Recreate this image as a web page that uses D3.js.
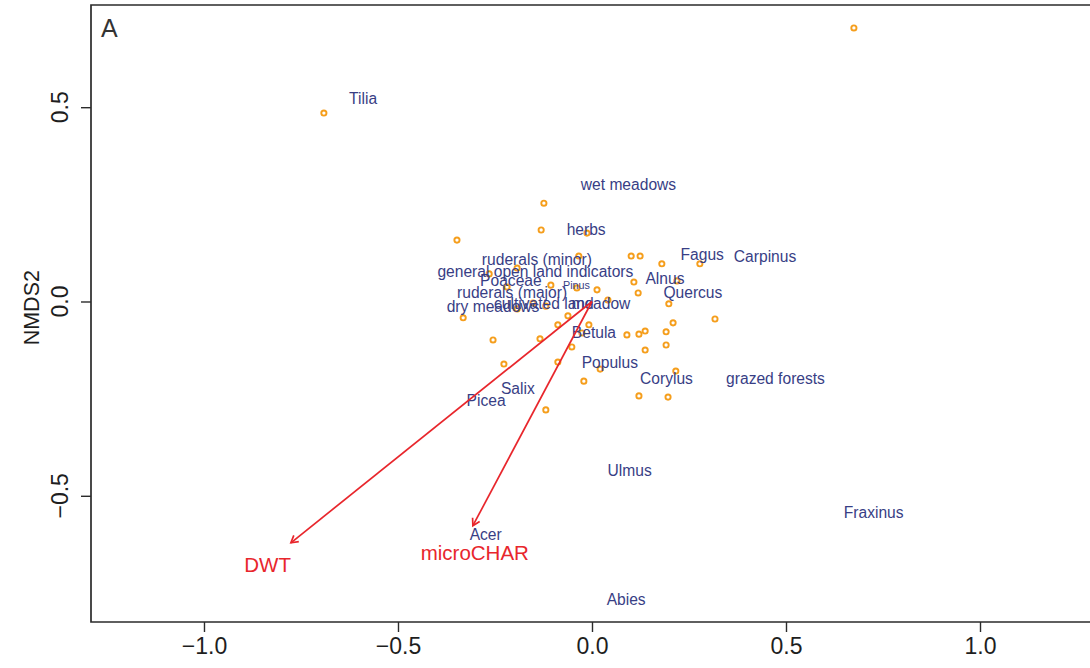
<!DOCTYPE html>
<html>
<head>
<meta charset="utf-8">
<script src="https://cdn.jsdelivr.net/npm/d3@7"></script>
<style>
  html, body { margin: 0; padding: 0; background: #fff; }
  svg { display: block; font-family: "Liberation Sans", Arial, Helvetica, sans-serif; }
</style>
</head>
<body>
<svg id="chart" width="1090" height="668"></svg>
<script>
// Site scores (NMDS1, NMDS2)
const siteX = [0.675, -0.691, -0.124, -0.131, -0.348, -0.013, -0.034, 0.101, 0.124, 0.180,
               0.278, -0.193, -0.265, 0.108, 0.219, -0.106, -0.219, 0.013, 0.119, 0.041,
               -0.039, -0.152, -0.119, -0.193, -0.332, -0.062, -0.088, 0.198, 0.209, 0.317,
               -0.008, -0.255, -0.134, -0.026, -0.052, -0.227, -0.088, 0.021, -0.021, -0.119,
               0.090, 0.121, 0.137, 0.191, 0.191, 0.137, 0.216, 0.121, 0.196];
const siteY = [0.704, 0.485, 0.253, 0.184, 0.158, 0.176, 0.117, 0.117, 0.117, 0.097,
               0.097, 0.086, 0.071, 0.050, 0.053, 0.042, 0.037, 0.030, 0.022, 0.004,
               0.035, -0.004, -0.012, -0.019, -0.042, -0.037, -0.060, -0.006, -0.055, -0.045,
               -0.060, -0.099, -0.096, -0.081, -0.117, -0.161, -0.156, -0.174, -0.205, -0.279,
               -0.086, -0.084, -0.076, -0.078, -0.112, -0.125, -0.179, -0.243, -0.246];

// Pollen taxa / indicator group scores
const speciesNames = ["Tilia", "wet meadows", "herbs", "ruderals (minor)",
  "general open land indicators", "Poaceae", "Pinus", "ruderals (major)",
  "cultivated land", "dry meadows", "meadow", "Fagus", "Carpinus", "Alnus",
  "Quercus", "Betula", "Populus", "Corylus", "grazed forests", "Salix", "Picea",
  "Ulmus", "Fraxinus", "Acer", "Abies"];
const speciesX = [-0.590, 0.094, -0.015, -0.142, -0.146, -0.209, -0.040, -0.206,
  -0.124, -0.255, 0.023, 0.284, 0.446, 0.188, 0.260, 0.005, 0.046, 0.192, 0.473,
  -0.191, -0.273, 0.097, 0.726, -0.274, 0.088];
const speciesY = [0.521, 0.302, 0.185, 0.108, 0.078, 0.055, 0.042, 0.024,
  -0.004, -0.014, -0.004, 0.120, 0.115, 0.058, 0.024, -0.081, -0.156, -0.199, -0.197,
  -0.225, -0.256, -0.436, -0.544, -0.601, -0.766];

// Fitted environmental vectors
const vectorNames = ["DWT", "microCHAR"];
const vectorX = [-0.776, -0.307];
const vectorY = [-0.621, -0.577];
const vectorLabelX = [-0.836, -0.302];
const vectorLabelY = [-0.677, -0.648];

// Axis ticks
const xTicks = [-1.0, -0.5, 0.0, 0.5, 1.0];
const yTicks = [-0.5, 0.0, 0.5];
const yTitle = "NMDS2";
const panelLabel = "A";

(function () {
  const svg = d3.select("#chart");
  const pLeft = 91, pRight = 1090, pTop = 5, pBottom = 622;

  const x = d3.scaleLinear().domain([-1.2912, 1.2835]).range([pLeft, pRight]);
  const y = d3.scaleLinear().domain([0.7630, -0.8248]).range([pTop, pBottom]);

  const axisColor = "#2b2b2b";
  const taxaColor = "#383e85";
  const vecColor = "#e8262c";
  const siteColor = "#f59e1c";
  const fmt = d => d3.format(".1f")(d).replace("-", "\u2212");

  // Plot frame (left, top, bottom edges)
  svg.append("path")
    .attr("d", `M${pRight + 5},${pTop}H${pLeft}V${pBottom}H${pRight + 5}`)
    .attr("fill", "none").attr("stroke", axisColor).attr("stroke-width", 1.7);

  // Bottom axis
  const xAxis = d3.axisBottom(x).tickValues(xTicks).tickSize(10).tickPadding(6).tickFormat(fmt);
  const gx = svg.append("g").attr("transform", `translate(0,${pBottom})`).call(xAxis);
  gx.select(".domain").remove();
  gx.selectAll(".tick line").attr("stroke", axisColor).attr("stroke-width", 1.4);
  gx.selectAll(".tick text").attr("fill", "#1e1e1e").attr("font-size", 23)
    .attr("font-family", "Liberation Sans, Arial, sans-serif");

  // Left axis with rotated labels
  const yAxis = d3.axisLeft(y).tickValues(yTicks).tickSize(10).tickFormat("");
  const gy = svg.append("g").attr("transform", `translate(${pLeft},0)`).call(yAxis);
  gy.select(".domain").remove();
  gy.selectAll(".tick line").attr("stroke", axisColor).attr("stroke-width", 1.4);
  svg.append("g").selectAll("text").data(yTicks).join("text")
    .attr("transform", d => `translate(60,${y(d)}) rotate(-90)`)
    .attr("text-anchor", "middle").attr("dy", "0.35em")
    .attr("font-size", 23).attr("fill", "#1e1e1e")
    .text(fmt);

  svg.append("text")
    .attr("transform", `translate(31,${y(-0.016)}) rotate(-90)`)
    .attr("text-anchor", "middle").attr("dy", "0.35em")
    .attr("font-size", 21.5).attr("fill", "#1e1e1e").text(yTitle);

  svg.append("text").attr("x", 101).attr("y", 37)
    .attr("font-size", 25).attr("fill", "#333").text(panelLabel);

  // Site points
  svg.append("g").selectAll("circle").data(siteX.map((v, i) => [v, siteY[i]])).join("circle")
    .attr("cx", d => x(d[0])).attr("cy", d => y(d[1])).attr("r", 2.6)
    .attr("fill", "#fff").attr("stroke", siteColor).attr("stroke-width", 1.9);

  // Taxa labels
  const smallNames = new Set(["Pinus"]);
  svg.append("g").selectAll("text").data(speciesNames).join("text")
    .attr("x", (d, i) => x(speciesX[i])).attr("y", (d, i) => y(speciesY[i]))
    .attr("text-anchor", "middle").attr("dy", "0.35em")
    .attr("font-size", d => smallNames.has(d) ? 10.8 : 15.6)
    .attr("fill", taxaColor).text(d => d);

  // Environmental vectors with open arrowheads
  const gv = svg.append("g").attr("stroke", vecColor).attr("stroke-width", 1.7).attr("fill", "none");
  vectorNames.forEach((name, i) => {
    const x0 = x(0), y0 = y(0), x1 = x(vectorX[i]), y1 = y(vectorY[i]);
    gv.append("line").attr("x1", x0).attr("y1", y0).attr("x2", x1).attr("y2", y1);
    const ang = Math.atan2(y1 - y0, x1 - x0), len = 8, spread = Math.PI / 6;
    const p1 = [x1 - len * Math.cos(ang - spread), y1 - len * Math.sin(ang - spread)];
    const p2 = [x1 - len * Math.cos(ang + spread), y1 - len * Math.sin(ang + spread)];
    gv.append("path").attr("d", `M${p1}L${x1},${y1}L${p2}`);
  });
  svg.append("g").selectAll("text").data(vectorNames).join("text")
    .attr("x", (d, i) => x(vectorLabelX[i])).attr("y", (d, i) => y(vectorLabelY[i]))
    .attr("text-anchor", "middle").attr("dy", "0.35em")
    .attr("font-size", 20.5).attr("fill", vecColor).text(d => d);
})();
</script>
</body>
</html>
